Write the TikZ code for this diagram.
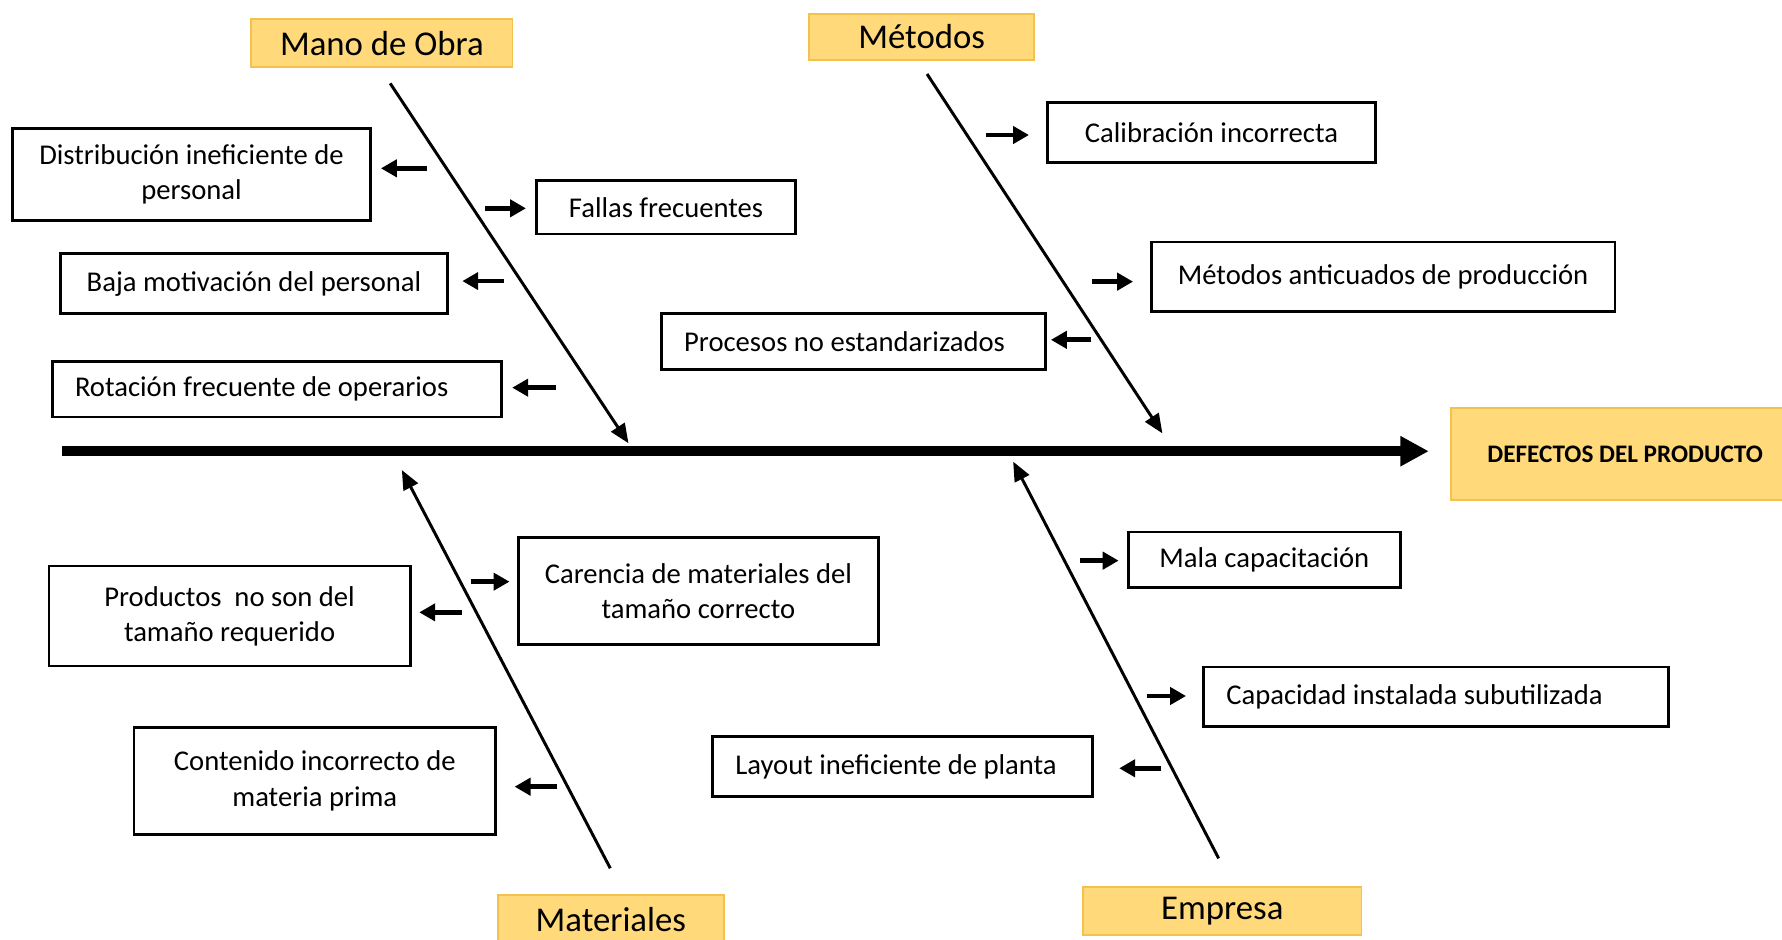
\documentclass[tikz,border=0pt]{standalone}
\usepackage{fontspec}
\setmainfont{Carlito}
\usetikzlibrary{arrows.meta}
\definecolor{hdrfill}{HTML}{FFD97A}
\definecolor{hdrdraw}{HTML}{F2C14E}
\tikzset{
  cbox/.style={draw=black, line width=1.2pt, fill=white, align=center, inner sep=2pt,
    font=\fontsize{12.6}{15.5}\selectfont},
  lbox/.style={cbox, align=flush left, inner xsep=10pt},
  hdr/.style={fill=hdrfill, draw=hdrdraw, line width=0.8pt,
    font=\fontsize{15.3}{18}\selectfont, inner sep=0pt},
  bone/.style={line width=1.3pt, -{Triangle[length=8.5pt,width=7pt]}},
  spine/.style={line width=4.5pt, -{Triangle[length=12.5pt,width=12.5pt]}},
  sarrow/.style={line width=2.1pt, -{Triangle[length=7pt,width=7.5pt]}},
}
\begin{document}
\begin{tikzpicture}[x=0.5pt,y=-0.5pt]
\clip (0,0) rectangle (1568,827);
\fill[white] (0,0) rectangle (1568,827);

% headers
\node[hdr, minimum width=115pt, minimum height=21pt] (mano) at (336,38) {Mano de Obra};
\node[hdr, minimum width=99pt, minimum height=20.5pt] (metodos) at (811,32.5) {Métodos};
\node[hdr, minimum width=153pt, minimum height=40.5pt,
  font=\bfseries\fontsize{11.1}{13}\selectfont] (efecto) at (1430,399.5) {DEFECTOS DEL PRODUCTO};
\node[hdr, minimum width=99.5pt, minimum height=22pt] (materiales) at (537.5,809.5) {Materiales};
\node[hdr, minimum width=122.5pt, minimum height=21pt] (empresa) at (1075.5,801.5) {Empresa};

% cause boxes
\node[cbox, minimum width=157.5pt, minimum height=40.5pt] (dist) at (168.5,153.5) {Distribución ineficiente de\\personal};
\node[cbox, minimum width=114pt, minimum height=23.5pt] (fallas) at (586,182.5) {Fallas frecuentes};
\node[cbox, minimum width=170.5pt, minimum height=26.5pt] (baja) at (223.5,249.5) {Baja motivación del personal};
\node[lbox, text width=177.5pt, minimum height=24.5pt] (rot) at (243.5,342.5) {Rotación frecuente de operarios};
\node[cbox, minimum width=144pt, minimum height=26.5pt] (calib) at (1066,116.5) {Calibración incorrecta};
\node[cbox, minimum width=204pt, minimum height=30.5pt] (metant) at (1217,243.5) {Métodos anticuados de producción};
\node[lbox, text width=149pt, minimum height=24.5pt] (proc) at (751,300.5) {Procesos no estandarizados};
\node[cbox, minimum width=158.5pt, minimum height=47pt] (carencia) at (614.5,520) {Carencia de materiales del\\tamaño correcto};
\node[cbox, minimum width=159pt, minimum height=44pt] (productos) at (202,542) {Productos~ no son del\\tamaño requerido};
\node[cbox, minimum width=159pt, minimum height=47pt] (contenido) at (277,687) {Contenido incorrecto de\\materia prima};
\node[cbox, minimum width=119.5pt, minimum height=24.5pt] (mala) at (1112.5,492.5) {Mala capacitación};
\node[lbox, text width=184.5pt, minimum height=26pt] (capac) at (1263.5,613) {Capacidad instalada subutilizada};
\node[lbox, text width=147pt, minimum height=26.5pt] (layout) at (794,674.5) {Layout ineficiente de planta};

% spine
\coordinate (spinestart) at (54.5,397);
\draw[spine, shorten >=9.5pt] (spinestart) -- (spinestart -| efecto.west);

% bones
\coordinate (b1s) at (343.3,73.3);  \coordinate (b1e) at (553,390);
\coordinate (b2s) at (815.7,65.1);  \coordinate (b2e) at (1022.8,381.3);
\coordinate (b3s) at (537,764);     \coordinate (b3e) at (353.6,413.6);
\coordinate (b4s) at (1072.3,755.3);\coordinate (b4e) at (891.5,406.2);
\draw[bone] (b1s) -- (b1e);
\draw[bone] (b2s) -- (b2e);
\draw[bone] (b3s) -- (b3e);
\draw[bone] (b4s) -- (b4e);

% small arrows
\coordinate (tdist) at (375.6,148.1);
\coordinate (tfallas) at (426.8,183.3);
\coordinate (tbaja) at (443.5,247.3);
\coordinate (trot) at (489,341.1);
\coordinate (tcalib) at (867.6,118.8);
\coordinate (tmetant) at (961,247.8);
\coordinate (tproc) at (960.3,299);
\coordinate (tcarencia) at (414,511.8);
\coordinate (tproductos) at (406.6,538.8);
\coordinate (tcontenido) at (490,692.2);
\coordinate (tmala) at (950,493.3);
\coordinate (tcapac) at (1009,612.4);
\coordinate (tlayout) at (1021.8,676);

\draw[sarrow, shorten >=4pt] (tdist) -- (tdist -| dist.east);
\draw[sarrow, shorten >=4pt] (tfallas) -- (tfallas -| fallas.west);
\draw[sarrow, shorten >=5.8pt] (tbaja) -- (tbaja -| baja.east);
\draw[sarrow, shorten >=4.25pt] (trot) -- (trot -| rot.east);
\draw[sarrow, shorten >=7.7pt] (tcalib) -- (tcalib -| calib.west);
\draw[sarrow, shorten >=7.4pt] (tmetant) -- (tmetant -| metant.west);
\draw[sarrow, shorten >=1.75pt] (tproc) -- (tproc -| proc.east);
\draw[sarrow, shorten >=3.25pt] (tcarencia) -- (tcarencia -| carencia.west);
\draw[sarrow, shorten >=3.35pt] (tproductos) -- (tproductos -| productos.east);
\draw[sarrow, shorten >=7.8pt] (tcontenido) -- (tcontenido -| contenido.east);
\draw[sarrow, shorten >=3.75pt] (tmala) -- (tmala -| mala.west);
\draw[sarrow, shorten >=7.1pt] (tcapac) -- (tcapac -| capac.west);
\draw[sarrow, shorten >=11.3pt] (tlayout) -- (tlayout -| layout.east);
\end{tikzpicture}
\end{document}
